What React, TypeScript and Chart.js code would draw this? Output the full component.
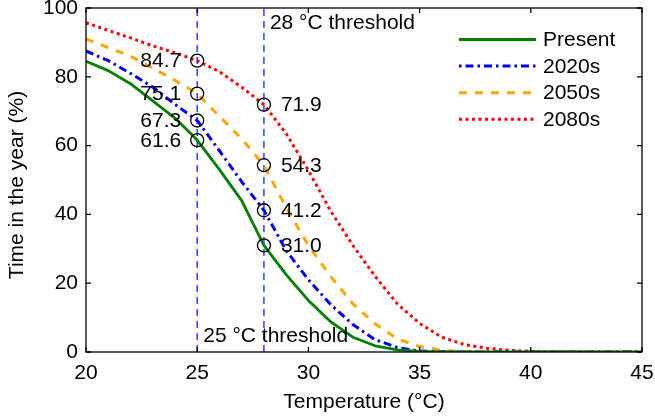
import React, { useEffect, useRef } from "react";
import { Chart, registerables } from "chart.js";
Chart.register(...registerables);

const temperatures = [20, 21, 22, 23, 24, 25, 26, 27, 28, 29, 30, 31, 32, 33, 34, 35, 36, 37, 38, 39, 40, 41, 42, 43, 44, 45];
const present = [84.5, 81.8, 78, 73, 68, 61.6, 53, 44, 31.0, 22.5, 15, 8.8, 4.3, 1.8, 0.6, 0.2, 0.05, 0, 0, 0, 0, 0, 0, 0, 0, 0];
const s2020 = [87.5, 84.7, 81, 77, 72, 67.3, 58.5, 49.5, 41.2, 29.5, 21, 13.8, 8, 3.6, 1.3, 0.3, 0.05, 0, 0, 0, 0, 0, 0, 0, 0, 0];
const s2050 = [91, 88.5, 86, 82.5, 79, 75.1, 68.5, 62, 54.3, 42, 31, 22, 14, 8.2, 3.8, 1.6, 0.5, 0.1, 0, 0, 0, 0, 0, 0, 0, 0];
const s2080 = [95.7, 93.5, 91.3, 89, 87, 84.7, 81.5, 77, 71.9, 63.5, 52.8, 41, 31, 22, 14, 8.3, 4.3, 2.2, 1.1, 0.5, 0.2, 0.05, 0, 0, 0, 0];
const seriesNames = ["Present", "2020s", "2050s", "2080s"];

const thresholds = [25, 28];
const thresholdLabels = ["25 °C threshold", "28 °C threshold"];
const markerTemps = [25, 25, 25, 25, 28, 28, 28, 28];
const markerValues = [84.7, 75.1, 67.3, 61.6, 71.9, 54.3, 41.2, 31.0];

const xTicks = [20, 25, 30, 35, 40, 45];
const yTicks = [0, 20, 40, 60, 80, 100];
const xTitle = "Temperature (\u00b0C)";
const yTitle = "Time in the year (%)";

const FONT = '"Liberation Sans", Arial, Helvetica, sans-serif';
const FS = 21;

const styles = [
  { color: "#008000", dash: [] as number[], width: 2.8, offset: 0 },
  { color: "#0000ff", dash: [8, 4, 2.5, 4], width: 3, offset: 12 },
  { color: "#ffa500", dash: [8, 8], width: 3, offset: 0 },
  { color: "#ff0000", dash: [3, 3.5], width: 3, offset: 0 },
];

export default function App() {
  const ref = useRef<HTMLCanvasElement>(null);
  useEffect(() => {
    document.body.style.margin = "0";
    const canvas = ref.current!;
    const allSeries = [present, s2020, s2050, s2080];
    const curveSets = allSeries.map((vals, k) => ({
      type: "line",
      label: seriesNames[k],
      data: temperatures.map((t, i) => ({ x: t, y: vals[i] })),
      borderColor: styles[k].color,
      borderDash: styles[k].dash,
      borderWidth: styles[k].width,
      borderCapStyle: "butt",
      borderJoinStyle: "round",
      pointRadius: 0,
      tension: 0,
      fill: false,
      order: 2,
    }));
    const thresholdSets = thresholds.map((t) => ({
      type: "line",
      label: "thr" + t,
      data: [{ x: t, y: 0 }, { x: t, y: 100 }],
      borderColor: "#2233ff",
      borderDash: [7, 5],
      borderWidth: 1.4,
      pointRadius: 0,
      fill: false,
      order: 3,
    }));
    const markerSet = {
      type: "line",
      label: "markers",
      data: markerTemps.map((t, i) => ({ x: t, y: markerValues[i] })),
      showLine: false,
      pointRadius: 6.5,
      pointBorderColor: "#000",
      pointBackgroundColor: "rgba(0,0,0,0)",
      pointBorderWidth: 1.3,
      order: 1,
    };

    const overlay = {
      id: "overlay",
      afterDraw(chart: any) {
        const c = chart.ctx;
        const xs = chart.scales.x;
        const ys = chart.scales.y;
        const a = chart.chartArea;
        c.save();
        c.strokeStyle = "#000";
        c.lineWidth = 1.3;
        c.strokeRect(a.left, a.top, a.right - a.left, a.bottom - a.top);
        const tl = 5;
        c.beginPath();
        xTicks.forEach((v) => {
          const px = xs.getPixelForValue(v);
          c.moveTo(px, a.bottom);
          c.lineTo(px, a.bottom - tl);
          c.moveTo(px, a.top);
          c.lineTo(px, a.top + tl);
        });
        yTicks.forEach((v) => {
          const py = ys.getPixelForValue(v);
          c.moveTo(a.left, py);
          c.lineTo(a.left + tl, py);
          c.moveTo(a.right, py);
          c.lineTo(a.right - tl, py);
        });
        c.stroke();

        c.fillStyle = "#000";
        c.font = `${FS}px ${FONT}`;
        c.textBaseline = "middle";
        markerTemps.forEach((t, i) => {
          const px = xs.getPixelForValue(t);
          const py = ys.getPixelForValue(markerValues[i]);
          const label = markerValues[i].toFixed(1);
          if (t === thresholds[0]) {
            c.textAlign = "right";
            c.fillText(label, px - 16, py + 1);
          } else {
            c.textAlign = "left";
            c.fillText(label, px + 17, py + 1);
          }
        });
        c.textAlign = "left";
        c.fillText(thresholdLabels[1], xs.getPixelForValue(thresholds[1]) + 6, a.top + 15);
        c.fillText(thresholdLabels[0], xs.getPixelForValue(thresholds[0]) + 6, a.bottom - 16);

        const lx0 = 459, lx1 = 536, ly0 = 39.5, lstep = 26.6;
        seriesNames.forEach((name, k) => {
          const y = ly0 + k * lstep;
          c.beginPath();
          c.setLineDash(styles[k].dash);
          c.lineDashOffset = styles[k].offset;
          c.lineCap = "butt";
          c.strokeStyle = styles[k].color;
          c.lineWidth = styles[k].width;
          c.moveTo(lx0, y);
          c.lineTo(lx1, y);
          c.stroke();
          c.setLineDash([]);
          c.lineDashOffset = 0;
          c.fillStyle = "#000";
          c.textAlign = "left";
          c.fillText(name, 543, y + 1);
        });

        c.fillStyle = "#000";
        c.textAlign = "center";
        c.fillText(xTitle, (a.left + a.right) / 2, 402);
        c.translate(17, (a.top + a.bottom) / 2 + 5);
        c.rotate(-Math.PI / 2);
        c.fillText(yTitle, 0, 0);
        c.restore();
      },
    };

    const zeroPad = (s: any) => {
      s.paddingTop = 0;
      s.paddingBottom = 0;
      s.paddingLeft = 0;
      s.paddingRight = 0;
    };

    const chart = new Chart(canvas, {
      type: "line",
      data: { datasets: [markerSet, ...curveSets, ...thresholdSets] as any },
      options: {
        responsive: false,
        animation: false,
        layout: { padding: { top: 8, right: 13, left: 0, bottom: 0 } },
        plugins: { legend: { display: false }, tooltip: { enabled: false } },
        scales: {
          x: {
            type: "linear",
            min: 20,
            max: 45,
            afterBuildTicks: (s: any) => { s.ticks = xTicks.map((v) => ({ value: v })); },
            afterFit: (s: any) => { s.height = 66; zeroPad(s); },
            grid: { display: false, drawTicks: false },
            border: { display: false },
            ticks: { color: "#000", font: { size: FS, family: FONT }, padding: 9, maxRotation: 0 },
          },
          y: {
            type: "linear",
            min: 0,
            max: 100,
            afterBuildTicks: (s: any) => { s.ticks = yTicks.map((v) => ({ value: v })); },
            afterFit: (s: any) => { s.width = 86; zeroPad(s); },
            grid: { display: false, drawTicks: false },
            border: { display: false },
            ticks: { color: "#000", font: { size: FS, family: FONT }, padding: 8 },
          },
        },
      } as any,
      plugins: [overlay],
    });
    return () => chart.destroy();
  }, []);
  return <canvas ref={ref} width={655} height={418} style={{ display: "block" }} />;
}
